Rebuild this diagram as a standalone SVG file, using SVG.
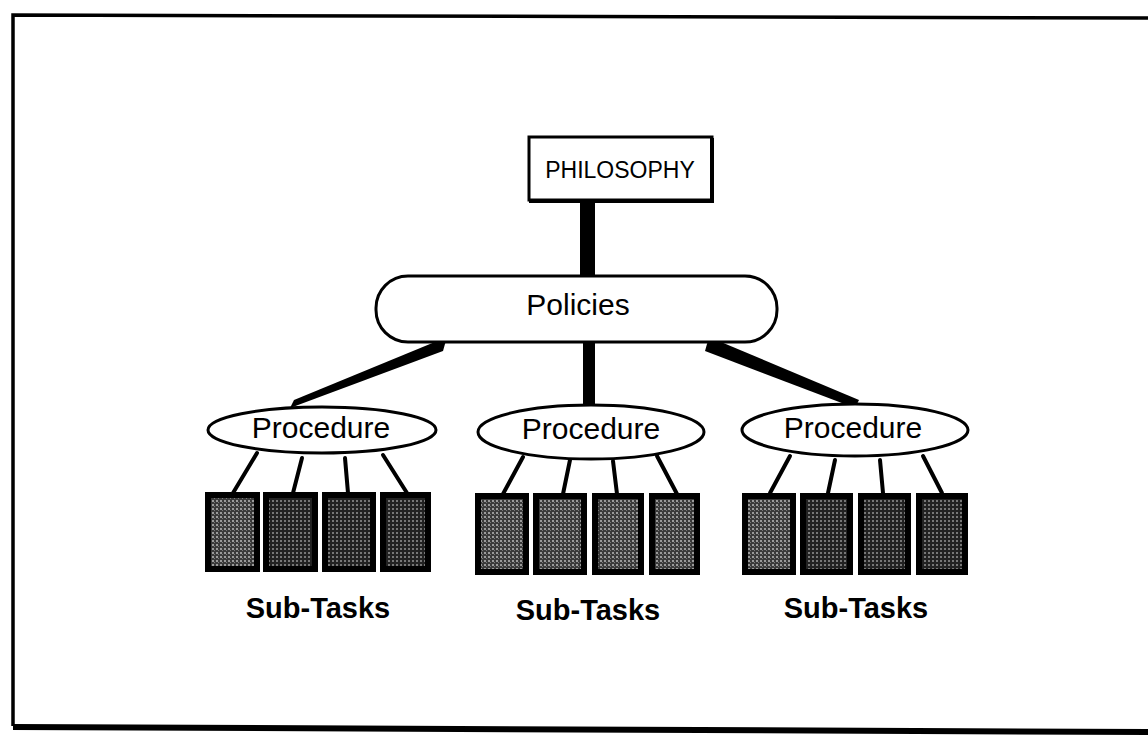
<svg xmlns="http://www.w3.org/2000/svg" width="1148" height="736" viewBox="0 0 1148 736">
  <defs>
    <pattern id="dots" width="4" height="4" patternUnits="userSpaceOnUse">
      <rect width="4" height="4" fill="#3a3a3a"/>
      <rect x="0" y="0" width="2" height="2" fill="#9a9a9a"/>
      <rect x="2" y="2" width="1" height="1" fill="#7a7a7a"/>
    </pattern>
    <pattern id="dotsDark" width="4" height="4" patternUnits="userSpaceOnUse">
      <rect width="4" height="4" fill="#222"/>
      <rect x="0" y="0" width="2" height="2" fill="#777"/>
    </pattern>
    <style>
      .frame { fill: none; stroke: #000; }
      .box { fill: #fff; stroke: #000; stroke-width: 3; }
      .label { font-family: "Liberation Sans", Arial, sans-serif; fill: #000; text-anchor: middle; }
      .thick { fill: #000; }
      .leg { stroke: #000; stroke-width: 4; stroke-linecap: round; fill: none; }
      .task { stroke: #000; stroke-width: 6; }
      .caption { font-family: "Liberation Sans", Arial, sans-serif; font-weight: bold; font-size: 29px; fill: #000; text-anchor: middle; }
    </style>
  </defs>

  <rect width="1148" height="736" fill="#fff"/>

  <!-- outer frame: left, top, bottom edges -->
  <path class="frame" stroke-width="3.5" d="M1148,18 L13,15 L13,726"/>
  <path class="frame" stroke-width="6" d="M13,727 L1148,732"/>

  <!-- connectors -->
  <g id="connectors">
    <rect class="thick" x="580" y="199" width="15" height="78"/>
    <polygon class="thick" points="447,337 443,351 290,408 294,400"/>
    <rect class="thick" x="583" y="340" width="12" height="65"/>
    <polygon class="thick" points="709,337 859,400 855,408 705,351"/>

    <line class="leg" x1="257" y1="453" x2="233" y2="493"/>
    <line class="leg" x1="302" y1="458" x2="293" y2="493"/>
    <line class="leg" x1="345" y1="458" x2="348" y2="493"/>
    <line class="leg" x1="383" y1="455" x2="407" y2="493"/>

    <line class="leg" x1="523" y1="457" x2="503" y2="494"/>
    <line class="leg" x1="570" y1="460" x2="563" y2="494"/>
    <line class="leg" x1="613" y1="461" x2="617" y2="494"/>
    <line class="leg" x1="657" y1="456" x2="677" y2="494"/>

    <line class="leg" x1="790" y1="456" x2="770" y2="493"/>
    <line class="leg" x1="835" y1="460" x2="828" y2="493"/>
    <line class="leg" x1="880" y1="460" x2="883" y2="493"/>
    <line class="leg" x1="923" y1="456" x2="942" y2="493"/>
  </g>

  <g id="philosophy">
    <rect class="box" x="529" y="137" width="183" height="63"/>
    <path d="M712,138 L712,201 L529,201" fill="none" stroke="#000" stroke-width="4"/>
    <text class="label" x="620" y="178" font-size="23">PHILOSOPHY</text>
  </g>

  <g id="policies">
    <rect class="box" x="376" y="276" width="401" height="66" rx="32" ry="32"/>
    <text class="label" x="578" y="315" font-size="30">Policies</text>
  </g>

  <g id="procedure-1">
    <ellipse class="box" cx="322" cy="430" rx="114" ry="23"/>
    <text class="label" x="321" y="438" font-size="30">Procedure</text>
  </g>
  <g id="procedure-2">
    <ellipse class="box" cx="591" cy="432" rx="113" ry="27"/>
    <text class="label" x="591" y="439" font-size="30">Procedure</text>
  </g>
  <g id="procedure-3">
    <ellipse class="box" cx="855" cy="430" rx="113" ry="26"/>
    <text class="label" x="853" y="438" font-size="30">Procedure</text>
  </g>

  <g id="subtasks-1">
    <rect class="task" x="208" y="495" width="49" height="74" fill="url(#dots)"/>
    <rect class="task" x="266" y="495" width="49" height="74" fill="url(#dotsDark)"/>
    <rect class="task" x="325" y="495" width="48" height="74" fill="url(#dotsDark)"/>
    <rect class="task" x="383" y="495" width="45" height="74" fill="url(#dotsDark)"/>
    <text class="caption" x="318" y="618">Sub-Tasks</text>
  </g>

  <g id="subtasks-2">
    <rect class="task" x="478" y="496" width="48" height="76" fill="url(#dots)"/>
    <rect class="task" x="536" y="496" width="48" height="76" fill="url(#dots)"/>
    <rect class="task" x="595" y="496" width="46" height="76" fill="url(#dots)"/>
    <rect class="task" x="652" y="496" width="45" height="76" fill="url(#dots)"/>
    <text class="caption" x="588" y="620">Sub-Tasks</text>
  </g>

  <g id="subtasks-3">
    <rect class="task" x="745" y="496" width="48" height="76" fill="url(#dots)"/>
    <rect class="task" x="803" y="496" width="47" height="76" fill="url(#dotsDark)"/>
    <rect class="task" x="861" y="496" width="47" height="76" fill="url(#dotsDark)"/>
    <rect class="task" x="919" y="496" width="46" height="76" fill="url(#dotsDark)"/>
    <text class="caption" x="856" y="618">Sub-Tasks</text>
  </g>
</svg>
